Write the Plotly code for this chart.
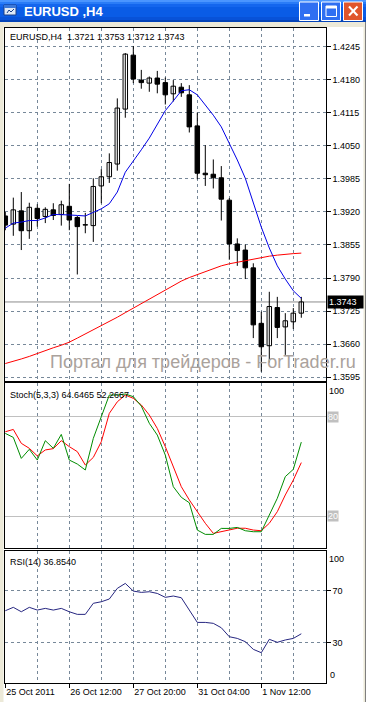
import plotly.graph_objects as go

# ---------------- data ----------------
bars = list(range(38))
open_ = [1.3912, 1.3896, 1.3922, 1.3883, 1.3927, 1.3911, 1.3924, 1.3915, 1.3931, 1.3909,
         1.3894, 1.3893, 1.3971, 1.3989, 1.4014, 1.4122, 1.4228, 1.4179, 1.4173, 1.4183,
         1.4174, 1.4152, 1.4165, 1.4150, 1.4089, 1.3996, 1.3994, 1.3987, 1.3943, 1.3857,
         1.3845, 1.3810, 1.3701, 1.3657, 1.3732, 1.3694, 1.3704, 1.3721]
high = [1.3920, 1.3948, 1.3959, 1.3938, 1.3935, 1.3929, 1.3937, 1.3942, 1.3975, 1.3912,
        1.3918, 1.3986, 1.4004, 1.4035, 1.4143, 1.4232, 1.4246, 1.4199, 1.4186, 1.4197,
        1.4184, 1.4179, 1.4173, 1.4169, 1.4115, 1.4051, 1.4023, 1.4010, 1.3947, 1.3868,
        1.3856, 1.3819, 1.3724, 1.3763, 1.3753, 1.3721, 1.3731, 1.3753]
low = [1.3884, 1.3873, 1.3845, 1.3867, 1.3891, 1.3898, 1.3904, 1.3893, 1.3884, 1.3797,
       1.3878, 1.3861, 1.3937, 1.3977, 1.4001, 1.4105, 1.4173, 1.4162, 1.4156, 1.4153,
       1.4131, 1.4137, 1.4146, 1.4076, 1.3984, 1.3971, 1.3966, 1.3903, 1.3826, 1.3814,
       1.3788, 1.3672, 1.3606, 1.3624, 1.3672, 1.3639, 1.3690, 1.3712]
close = [1.3894, 1.3924, 1.3883, 1.3929, 1.3907, 1.3925, 1.3913, 1.3934, 1.3904, 1.3891,
         1.3895, 1.3970, 1.3989, 1.4017, 1.4124, 1.4230, 1.4181, 1.4174, 1.4183, 1.4171,
         1.4150, 1.4167, 1.4154, 1.4087, 1.3996, 1.3993, 1.3987, 1.3945, 1.3857, 1.3844,
         1.3810, 1.3698, 1.3655, 1.3734, 1.3693, 1.3706, 1.3721, 1.3743]
ma_fast = [1.3888, 1.3898, 1.3900, 1.3903, 1.3903, 1.3908, 1.3915, 1.3915, 1.3914, 1.3913,
           1.3912, 1.3919, 1.3926, 1.3936, 1.3959, 1.3998, 1.4019, 1.4042, 1.4065, 1.4091,
           1.4119, 1.4138, 1.4158, 1.4160, 1.4150, 1.4130, 1.4110, 1.4087, 1.4055, 1.4022,
           1.3986, 1.3938, 1.3890, 1.3849, 1.3814, 1.3788, 1.3765, 1.3750]
ma_slow = [1.3622, 1.3626, 1.3631, 1.3636, 1.3642, 1.3647, 1.3653, 1.3658, 1.3664, 1.3672,
           1.3680, 1.3688, 1.3696, 1.3704, 1.3713, 1.3722, 1.3731, 1.3740, 1.3749, 1.3758,
           1.3767, 1.3776, 1.3784, 1.3791, 1.3797, 1.3803, 1.3809, 1.3814, 1.3818, 1.3821,
           1.3824, 1.3827, 1.3831, 1.3833, 1.3835, 1.3837, 1.3838, 1.3839]
stoch_k = [69.9, 67.5, 54.8, 60.3, 53.8, 65.5, 60.9, 69.3, 53.8, 51.4,
           47.8, 66.9, 80.0, 93.1, 93.1, 93.7, 92.1, 86.4, 76.0, 68.9,
           56.8, 37.7, 31.3, 28.0, 11.5, 8.9, 8.9, 12.5, 12.5, 13.1,
           11.1, 10.5, 10.5, 20.6, 30.7, 43.8, 48.2, 64.6465]
stoch_d = [70.9, 72.3, 63.9, 60.9, 56.3, 59.9, 60.7, 65.5, 61.9, 58.9,
           50.8, 55.4, 64.9, 82.0, 89.0, 93.1, 91.1, 87.1, 81.0, 72.9,
           61.9, 49.8, 37.7, 29.7, 22.6, 15.6, 9.5, 10.5, 11.5, 12.6,
           12.6, 11.5, 11.1, 15.6, 22.6, 32.7, 41.7, 52.2667]
rsi = [54.6, 57.2, 53.8, 57.2, 55.1, 56.4, 55.1, 56.4, 53.8, 51.8,
       51.8, 60.3, 61.5, 63.6, 71.8, 75.6, 69.7, 68.7, 69.2, 67.9,
       64.9, 65.9, 64.6, 55.1, 45.6, 45.6, 44.9, 41.5, 34.6, 33.3,
       30.8, 24.9, 22.3, 32.6, 30.3, 32.1, 33.3, 36.854]

date_tick_bars = [0, 8, 16, 24, 32]
date_tick_labels = ["25 Oct 2011", "26 Oct 12:00", "27 Oct 20:00", "31 Oct 04:00", "1 Nov 12:00"]
grid_bars = [4, 12, 20, 28, 36]
price_ticks = [1.4245, 1.4180, 1.4115, 1.4050, 1.3985, 1.3920, 1.3855, 1.3790, 1.3725, 1.3660, 1.3595]
price_tick_labels = ["1.4245", "1.4180", "1.4115", "1.4050", "1.3985", "1.3920",
                     "1.3855", "1.3790", "1.3725", "1.3660", "1.3595"]
stoch_levels = [20, 80]
rsi_levels = [30, 70]
symbol = "EURUSD,H4"
window_title = "EURUSD ,H4"
watermark = "Портал для трейдеров - ForTrader.ru"

# ---------------- geometry helpers ----------------
W, H = 366, 702
def px(x):
    return x / W
def py(y):
    return 1 - y / H

FONT = "Liberation Sans, Arial, sans-serif"
GRID = "#778899"
DASH = "3px,3px"
BODY_W = 0.56

up = [i for i in bars if close[i] >= open_[i]]
dn = [i for i in bars if close[i] < open_[i]]

fig = go.Figure()

# wicks (high-low), drawn behind the bodies
wx, wy = [], []
for i in bars:
    wx += [i, i, None]
    wy += [high[i], low[i], None]
fig.add_trace(go.Scatter(x=wx, y=wy, mode="lines", line=dict(color="black", width=1),
                         xaxis="x", yaxis="y", hoverinfo="skip", showlegend=False))
# bodies
fig.add_trace(go.Bar(x=up, base=[open_[i] for i in up], y=[max(close[i] - open_[i], 0.00004) for i in up],
                     width=BODY_W, marker=dict(color="white", line=dict(color="black", width=1)),
                     xaxis="x", yaxis="y", hoverinfo="skip", showlegend=False))
fig.add_trace(go.Bar(x=dn, base=[close[i] for i in dn], y=[open_[i] - close[i] for i in dn],
                     width=BODY_W, marker=dict(color="black", line=dict(color="black", width=1)),
                     xaxis="x", yaxis="y", hoverinfo="skip", showlegend=False))
fig.add_trace(go.Scatter(x=bars, y=ma_slow, mode="lines", line=dict(color="#ff0000", width=1),
                         xaxis="x", yaxis="y", hoverinfo="skip", showlegend=False))
fig.add_trace(go.Scatter(x=bars, y=ma_fast, mode="lines", line=dict(color="#0000e6", width=1),
                         xaxis="x", yaxis="y", hoverinfo="skip", showlegend=False))
fig.add_trace(go.Scatter(x=bars, y=stoch_d, mode="lines", line=dict(color="#ff0000", width=1),
                         xaxis="x2", yaxis="y2", hoverinfo="skip", showlegend=False))
fig.add_trace(go.Scatter(x=bars, y=stoch_k, mode="lines", line=dict(color="#008c00", width=1),
                         xaxis="x2", yaxis="y2", hoverinfo="skip", showlegend=False))
fig.add_trace(go.Scatter(x=bars, y=rsi, mode="lines", line=dict(color="#262680", width=1),
                         xaxis="x3", yaxis="y3", hoverinfo="skip", showlegend=False))

xdom = [px(4.5), px(325.7)]
xrange_ = [-0.1, 40.05]

def xax(anchor, labels):
    d = dict(domain=xdom, range=xrange_, anchor=anchor, showline=True, linecolor="black",
             linewidth=1, mirror=True, zeroline=False, showgrid=True, gridcolor=GRID,
             griddash=DASH, gridwidth=1, tickvals=date_tick_bars,
             minor=dict(tickvals=grid_bars, showgrid=True, gridcolor=GRID, griddash=DASH,
                        gridwidth=1, ticks=""),
             fixedrange=True)
    if labels:
        d.update(ticktext=date_tick_labels, ticks="outside", ticklen=4, tickcolor="black",
                 ticklabelposition="outside right", tickfont=dict(size=9, family=FONT, color="black"))
    else:
        d.update(showticklabels=False, ticks="")
    return d

layout = dict(
    width=W, height=H, margin=dict(l=0, r=0, t=0, b=0, autoexpand=False),
    paper_bgcolor="white", plot_bgcolor="white", showlegend=False, hovermode=False,
    barmode="overlay", bargap=0,
    font=dict(family=FONT, size=9, color="black"),
    xaxis=xax("y", False), xaxis2=xax("y2", False), xaxis3=xax("y3", True),
    yaxis=dict(domain=[py(381), py(27.5)], range=[1.35877, 1.42823], anchor="x", side="right",
               tickvals=price_ticks, ticktext=price_tick_labels, ticks="outside", ticklen=4,
               tickcolor="black", showgrid=True, gridcolor=GRID, griddash=DASH, gridwidth=1,
               showline=True, linecolor="black", linewidth=1, mirror=True, zeroline=False,
               tickfont=dict(size=9, family=FONT, color="black"), fixedrange=True),
    yaxis2=dict(domain=[py(548.3), py(383.3)], range=[0.48, 100.18], anchor="x2", side="right",
                tickvals=stoch_levels, showticklabels=False, ticks="", showgrid=True,
                gridcolor="#c0c0c0", gridwidth=1, showline=True, linecolor="black",
                linewidth=1, mirror=True, zeroline=False, fixedrange=True),
    yaxis3=dict(domain=[py(682.7), py(551)], range=[-0.77, 100.54], anchor="x3", side="right",
                tickvals=rsi_levels, ticktext=[str(v) for v in rsi_levels], ticks="outside",
                ticklen=4, tickcolor="black", showgrid=True, gridcolor=GRID, griddash=DASH,
                gridwidth=1, showline=True, linecolor="black", linewidth=1, mirror=True,
                zeroline=False, tickfont=dict(size=9, family=FONT, color="black"), fixedrange=True),
)
fig.update_layout(**layout)

shapes = []
# current price line
shapes.append(dict(type="line", xref="x domain", yref="y", x0=0, x1=1, y0=close[-1], y1=close[-1],
                   line=dict(color="#8c8c8c", width=1), layer="below"))
# window chrome: frame
shapes.append(dict(type="rect", xref="paper", yref="paper", x0=0, x1=1, y0=py(27), y1=py(21),
                   fillcolor="#ece9d8", line=dict(width=0), layer="above"))
shapes.append(dict(type="rect", xref="paper", yref="paper", x0=0, x1=px(3.5), y0=0, y1=py(21),
                   fillcolor="#ece9d8", line=dict(width=0), layer="above"))
shapes.append(dict(type="rect", xref="paper", yref="paper", x0=px(363.5), x1=1, y0=0, y1=py(21),
                   fillcolor="#ece9d8", line=dict(width=0), layer="above"))
shapes.append(dict(type="line", xref="paper", yref="paper", x0=px(365.5), x1=px(365.5), y0=0, y1=py(21),
                   line=dict(color="#7f7f7f", width=1), layer="above"))
# title bar (layered blues to mimic the gradient)
bands = [(0, 22, "#0a5ce6"), (0, 2, "#4a95ff"), (2, 4, "#2a7cf7"), (4, 7, "#1466ee"),
         (17, 20, "#0852d8"), (20, 22, "#0343b8")]
for y0, y1, c in bands:
    shapes.append(dict(type="rect", xref="paper", yref="paper", x0=0, x1=1, y0=py(y1), y1=py(y0),
                       fillcolor=c, line=dict(width=0), layer="above"))
# icon
shapes.append(dict(type="rect", xref="paper", yref="paper", x0=px(4), x1=px(16), y0=py(15), y1=py(5),
                   fillcolor="#dfe9f7", line=dict(color="#1c3f86", width=1), layer="above"))
shapes.append(dict(type="rect", xref="paper", yref="paper", x0=px(4), x1=px(16), y0=py(8), y1=py(5),
                   fillcolor="#3c78d8", line=dict(width=0), layer="above"))
shapes.append(dict(type="path", xref="paper", yref="paper",
                   path=f"M {px(7)},{py(13)} L {px(9)},{py(10)} L {px(11)},{py(12)} L {px(14)},{py(9)}",
                   line=dict(color="#1c3f86", width=1), layer="above"))
# buttons
for xa, xb, col in [(299.5, 318.5, "#2f6ff2"), (321.5, 340.5, "#2f6ff2"), (343.5, 362.5, "#e0552c")]:
    shapes.append(dict(type="rect", xref="paper", yref="paper", x0=px(xa), x1=px(xb), y0=py(20.5), y1=py(2),
                       fillcolor=col, line=dict(color="white", width=1), layer="above"))
shapes.append(dict(type="rect", xref="paper", yref="paper", x0=px(304), x1=px(310), y0=py(16.5), y1=py(14),
                   fillcolor="white", line=dict(width=0), layer="above"))
shapes.append(dict(type="rect", xref="paper", yref="paper", x0=px(326), x1=px(336.5), y0=py(16.5), y1=py(6),
                   fillcolor="rgba(0,0,0,0)", line=dict(color="white", width=1), layer="above"))
shapes.append(dict(type="rect", xref="paper", yref="paper", x0=px(326), x1=px(336.5), y0=py(8.5), y1=py(6),
                   fillcolor="white", line=dict(width=0), layer="above"))
shapes.append(dict(type="line", xref="paper", yref="paper", x0=px(349), x1=px(357.5), y0=py(6.5), y1=py(15.5),
                   line=dict(color="white", width=2), layer="above"))
shapes.append(dict(type="line", xref="paper", yref="paper", x0=px(357.5), x1=px(349), y0=py(6.5), y1=py(15.5),
                   line=dict(color="white", width=2), layer="above"))
fig.update_layout(shapes=shapes)

ann = []
def text(x, y, s, size=9, color="black", xanchor="left", yanchor="middle", yref="paper", **kw):
    ann.append(dict(x=x, y=y, xref="paper", yref=yref, text=s, showarrow=False, xanchor=xanchor,
                    yanchor=yanchor, font=dict(size=size, color=color, family=kw.pop("family", FONT)),
                    **kw))

text(px(21.5), py(11.5), f"<b>{window_title}</b>", size=13, color="white",
     family="Liberation Sans Narrow, Liberation Sans, Arial, sans-serif")
text(px(203), py(362), watermark, size=18, color="#aaa29c", xanchor="center")
text(px(7.5), py(36.5),
     f"{symbol}\u00a0\u00a0{open_[-1]:.4f} {high[-1]:.4f} {low[-1]:.4f} {close[-1]:.4f}")
text(px(7.5), py(394.5), f"Stoch(5,3,3) {stoch_k[-1]:.4f} {stoch_d[-1]:.4f}")
text(px(7.5), py(562), f"RSI({14}) {rsi[-1]:.4f}")
# current price box
text(px(326.5), close[-1], f"{close[-1]:.4f}", color="white", yref="y", bgcolor="black",
     borderpad=1, width=33, height=10, align="left")
# indicator scale labels
text(px(327), 100, "100", yref="y2", yanchor="top")
text(px(327.5), 0, "0", yref="y2", yanchor="bottom")
for lv in stoch_levels:
    text(px(327), lv, str(lv), yref="y2", color="white", bgcolor="#c0c0c0", borderpad=0)
text(px(327), 100, "100", yref="y3", yanchor="top")
text(px(327.5), 0, "0", yref="y3", yanchor="bottom")
fig.update_layout(annotations=ann)

fig.write_html("out.html", config={"displayModeBar": False, "staticPlot": True},
               post_script="document.body.style.margin='0';document.body.style.overflow='hidden';")
